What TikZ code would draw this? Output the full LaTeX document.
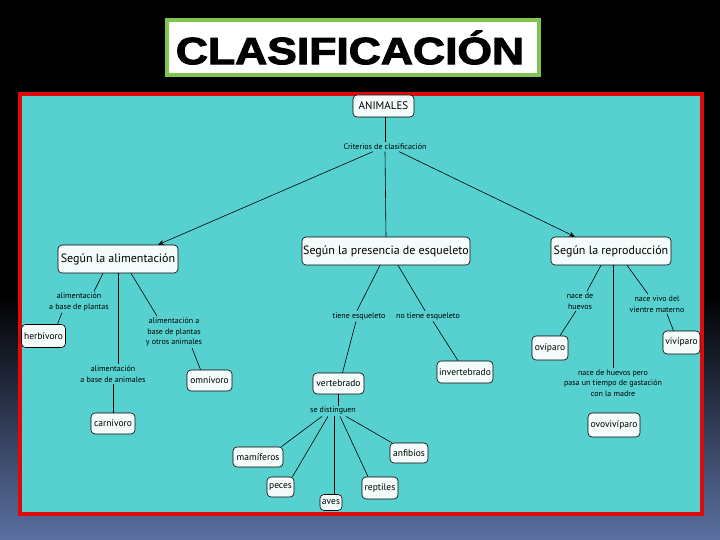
\documentclass[tikz,border=0pt]{standalone}
\usepackage{fontspec}
\setmainfont{PT Sans}
\newfontfamily\titlefont{Liberation Sans}[BoldFeatures={FakeBold=2.5}]
\usetikzlibrary{arrows.meta}
\definecolor{panel}{RGB}{87,209,207}
\definecolor{panelred}{RGB}{222,10,10}
\definecolor{titlegreen}{RGB}{128,196,82}
\definecolor{slate}{RGB}{92,112,162}
\definecolor{nodefill}{RGB}{243,251,251}
\begin{document}
\begin{tikzpicture}[x=1pt,y=-1pt,
  cbox/.style={draw=black,line width=0.6pt,fill=nodefill,rounded corners=4pt,inner sep=1pt},
  big/.style={cbox,font=\fontsize{12}{14}\selectfont,minimum height=28pt},
  small/.style={cbox,font=\fontsize{9.5}{11}\selectfont},
  lbl/.style={font=\fontsize{8}{10.5}\selectfont,align=center,inner sep=1.5pt},
  conn/.style={line width=0.6pt,black},
  arr/.style={conn,-{Stealth[length=6pt,width=5pt]}}]
\useasboundingbox (0,0) rectangle (720,540);
% background
\fill[black] (0,0) rectangle (720,540);
\shade[top color=black,bottom color=slate] (0,295) rectangle (720,540);
% title
\draw[titlegreen,line width=4pt,fill=white] (167,20) rectangle (539,75);
\node (title) at (350,47.5) {\scalebox{1.17}[1]{\titlefont\bfseries\fontsize{38}{40}\selectfont CLASIFICACIÓN}};
% panel
\draw[panelred,line width=4pt,fill=panel] (20,94) rectangle (702,514);
% nodes
\node[small,minimum width=61pt,minimum height=22pt,font=\fontsize{11}{13}\selectfont] (animales) at (383.5,106) {ANIMALES};
\node[lbl] (crit) at (385,147) {Criterios de clasificación};
\node[big,minimum width=120pt] (alim) at (118,259) {Según la alimentación};
\node[big,minimum width=168pt] (esq) at (386,251) {Según la presencia de esqueleto};
\node[big,minimum width=120pt] (repro) at (611,251) {Según la reproducción};
\node[small,minimum width=44pt,minimum height=23pt] (herb) at (43.5,336) {herbívoro};
\node[small,minimum width=44pt,minimum height=21pt] (carn) at (113,423.5) {carnívoro};
\node[small,minimum width=45pt,minimum height=21pt] (omni) at (209.5,380.5) {omnívoro};
\node[small,minimum width=51pt,minimum height=21pt] (vert) at (338.5,383.5) {vertebrado};
\node[small,minimum width=56pt,minimum height=22pt] (invert) at (465,372) {invertebrado};
\node[small,minimum width=50pt,minimum height=20pt] (mami) at (258,457) {mamíferos};
\node[small,minimum width=27pt,minimum height=20pt] (peces) at (280.5,487) {peces};
\node[small,minimum width=22pt,minimum height=16pt] (aves) at (331,502.5) {aves};
\node[small,minimum width=36pt,minimum height=22pt] (reptiles) at (380,488) {reptiles};
\node[small,minimum width=38pt,minimum height=20pt] (anfibios) at (409,453) {anfibios};
\node[small,minimum width=36pt,minimum height=24pt] (ovi) at (550,348) {ovíparo};
\node[small,minimum width=37pt,minimum height=23pt] (vivi) at (681.5,342.5) {vivíparo};
\node[small,minimum width=52pt,minimum height=24pt] (ovovi) at (614,425) {ovovivíparo};
% linking phrases
\node[lbl] (l1) at (79,302) {alimentación\\a base de plantas};
\node[lbl] (l2) at (113,374) {alimentación\\a base de animales};
\node[lbl] (l3) at (174,332) {alimentación a\\base de plantas\\y otros animales};
\node[lbl] (l4) at (359,316) {tiene esqueleto};
\node[lbl] (l5) at (428,316) {no tiene esqueleto};
\node[lbl] (l6) at (333,411) {se distinguen};
\node[lbl] (l7) at (580,301) {nace de\\huevos};
\node[lbl] (l8) at (657,304) {nace vivo del\\vientre materno};
\node[lbl] (l9) at (613,383) {nace de huevos pero\\pasa un tiempo de gastación\\con la madre};
% connectors
\draw[conn] ([xshift=1.5pt]animales.south) -- (crit.north);
\draw[conn] (crit.south) -- (esq.north);
\draw[arr] ([xshift=-12pt]crit.south) -- ([xshift=40pt]alim.north);
\draw[arr] ([xshift=14pt]crit.south) -- ([xshift=-36pt]repro.north);
% alimentacion
\draw[conn] ([xshift=-15pt]alim.south) -- ([xshift=15pt]l1.north);
\draw[conn] ([xshift=-17pt]l1.south) -- ([xshift=14pt]herb.north);
\draw[conn] (alim.south) -- (alim.south |- l2.north);
\draw[conn] (l2.south) -- (carn.north);
\draw[conn] ([xshift=13pt]alim.south) -- ([xshift=-17pt]l3.north);
\draw[conn] ([xshift=18pt]l3.south) -- ([xshift=-9pt]omni.north);
% esqueleto
\draw[conn] ([xshift=-6pt]esq.south) -- ([xshift=-2pt]l4.north);
\draw[conn] ([xshift=-3pt]l4.south) -- ([xshift=4pt]vert.north);
\draw[conn] ([xshift=12pt]esq.south) -- ([xshift=-3pt]l5.north);
\draw[conn] ([xshift=5pt]l5.south) -- ([xshift=-7pt]invert.north);
\draw[conn] (vert.south) -- (vert.south |- l6.north);
\draw[conn] ([xshift=-11pt]l6.south) -- ([xshift=-2pt]mami.north east);
\draw[conn] ([xshift=-5pt]l6.south) -- ([xshift=12pt]peces.north);
\draw[conn] ([xshift=1pt]l6.south) -- ([xshift=3pt]aves.north);
\draw[conn] ([xshift=7pt]l6.south) -- ([xshift=-12pt]reptiles.north);
\draw[conn] ([xshift=13pt]l6.south) -- ([xshift=2pt]anfibios.north west);
% reproduccion
\draw[conn] ([xshift=-10pt]repro.south) -- ([xshift=7pt]l7.north);
\draw[conn] ([xshift=-4pt]l7.south) -- ([xshift=10pt]ovi.north);
\draw[conn] ([xshift=2pt]repro.south) -- (l9.north);
\draw[conn] ([xshift=16pt]repro.south) -- ([xshift=-9pt]l8.north);
\draw[conn] ([xshift=10pt]l8.south) -- ([xshift=-8pt]vivi.north);
\end{tikzpicture}
\end{document}
